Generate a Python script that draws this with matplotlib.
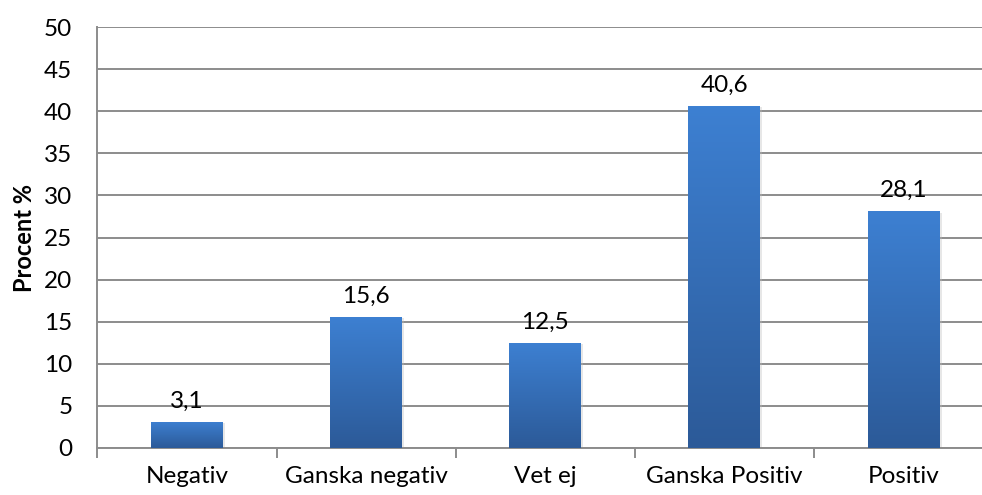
import matplotlib.pyplot as plt
import numpy as np
from matplotlib.colors import LinearSegmentedColormap

categories = ["Negativ", "Ganska negativ", "Vet ej", "Ganska Positiv", "Positiv"]
values = [3.1, 15.6, 12.5, 40.6, 28.1]
value_labels = ["3,1", "15,6", "12,5", "40,6", "28,1"]
yticks = [0, 5, 10, 15, 20, 25, 30, 35, 40, 45, 50]

plt.rcParams['font.family'] = ['Lato', 'DejaVu Sans']

W, H = 982, 495
fig = plt.figure(figsize=(W / 100, H / 100), dpi=100)
# plot area runs slightly past the right edge, as in the cropped original
left, right, top, bottom = 97.4, 993, 27, 448
ax = fig.add_axes([left / W, 1 - bottom / H, (right - left) / W, (bottom - top) / H])

x = np.arange(len(categories))
grey = "#8c8c8c"
fs = 17.5
ax.set_xlim(-0.5, len(categories) - 0.5)
ax.set_ylim(0, 50)
ax.set_yticks(yticks)
ax.yaxis.grid(True, color=grey, lw=1.4)
ax.set_axisbelow(True)
for s in ["top", "right"]:
    ax.spines[s].set_visible(False)
for s in ["left", "bottom"]:
    ax.spines[s].set_color(grey)
    ax.spines[s].set_linewidth(1.4)

ax.tick_params(axis="y", length=0, labelsize=fs, pad=18)
ax.set_xticks(np.arange(-0.5, len(categories)), minor=False)
ax.set_xticklabels([])
ax.set_xticks(x, minor=True)
ax.set_xticklabels(categories, minor=True, fontsize=fs)
ax.tick_params(axis="x", which="major", length=7, width=1.4, color=grey)
ax.tick_params(axis="x", which="minor", length=0, pad=13)

cmap = LinearSegmentedColormap.from_list("g", ["#2c5a98", "#3d80d2"])
grad = np.linspace(0, 1, 256).reshape(-1, 1)
bw = 0.40
bars = ax.bar(x, values, width=bw, color="none", edgecolor="none", zorder=3)
for b, v, lab in zip(bars, values, value_labels):
    x0 = b.get_x()
    # faint shadow
    ax.bar(b.get_x() + bw / 2 + 0.008, v, width=bw + 0.01, color="#bbbbbb",
           alpha=0.35, zorder=2, bottom=-0.15)
    im = ax.imshow(grad, extent=[x0, x0 + bw, 0, v], origin="lower",
                   cmap=cmap, aspect="auto", zorder=3)
    im.set_clip_path(b)
    ax.text(b.get_x() + bw / 2, v + 1.2, lab, ha="center", va="bottom", fontsize=fs)

ax.set_xlim(-0.5, len(categories) - 0.5)
ax.set_ylim(0, 50)
ax.set_ylabel("Procent %", fontsize=17, fontweight="bold", labelpad=6)

fig.savefig("out.png", dpi=100)
